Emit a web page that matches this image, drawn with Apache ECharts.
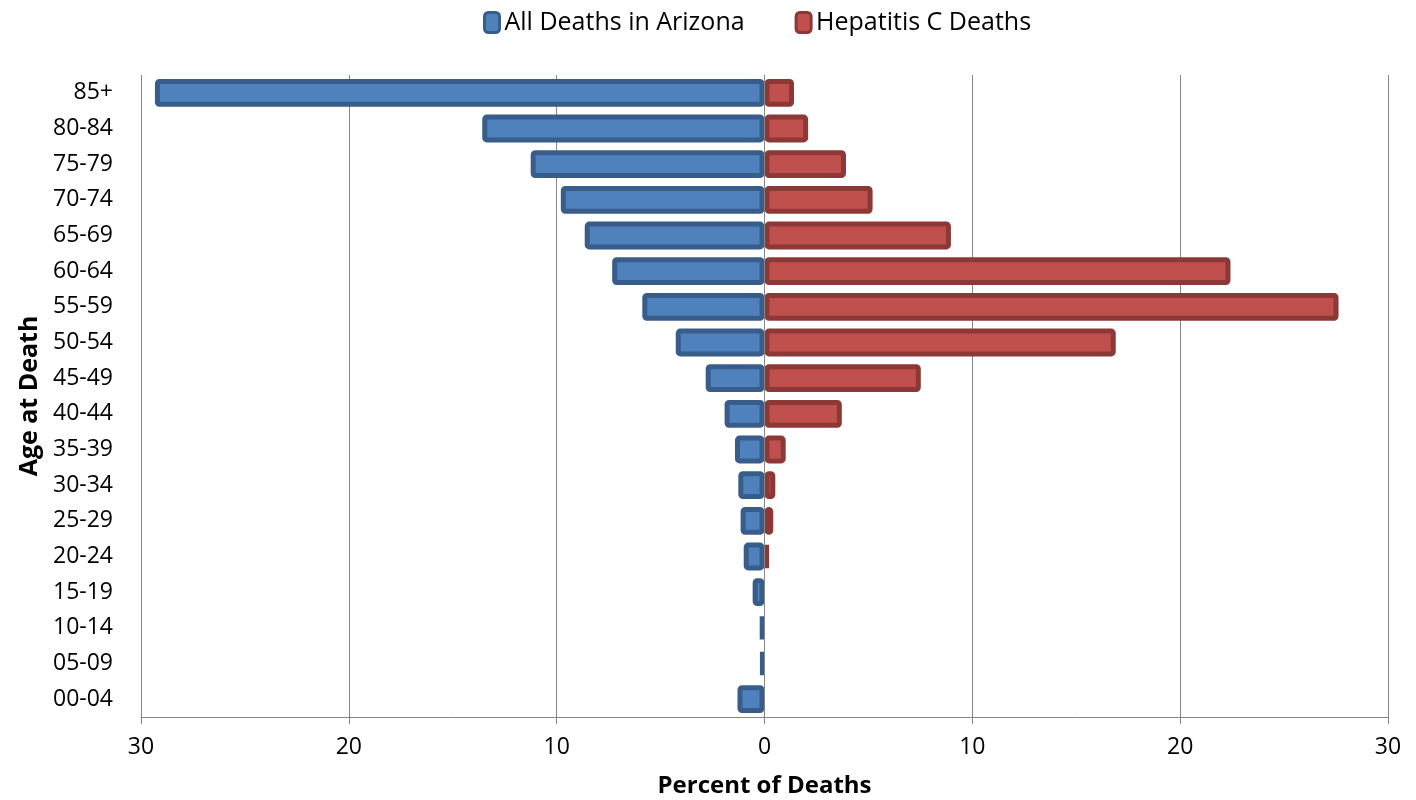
<!DOCTYPE html>
<html>
<head>
<meta charset="utf-8">
<script src="https://cdn.jsdelivr.net/npm/echarts@6/dist/echarts.min.js"></script>
<style>
  html, body { margin: 0; padding: 0; background: #fff; }
  #chart { width: 1416px; height: 800px; }
</style>
</head>
<body>
<div id="chart"></div>
<script>
// Age groups, bottom to top
const ageGroups = ['00-04', '05-09', '10-14', '15-19', '20-24', '25-29', '30-34', '35-39', '40-44',
  '45-49', '50-54', '55-59', '60-64', '65-69', '70-74', '75-79', '80-84', '85+'];
// Percent of all deaths in Arizona by age group
const allDeaths = [1.3, 0.2, 0.22, 0.57, 1.0, 1.15, 1.26, 1.42, 1.92,
  2.83, 4.27, 5.88, 7.33, 8.65, 9.8, 11.25, 13.58, 29.33];
// Percent of hepatitis C deaths by age group
const hepCDeaths = [0, 0, 0, 0, 0.2, 0.42, 0.52, 1.02, 3.72,
  7.52, 16.9, 27.62, 22.42, 8.97, 5.2, 3.92, 2.1, 1.42];
// Value axis ticks
const axisMin = -30, axisMax = 30, axisStep = 10;

const FONT = '"Open Sans"';
const chart = echarts.init(document.getElementById('chart'));

chart.setOption({
  backgroundColor: '#ffffff',
  textStyle: { fontFamily: FONT, color: '#000' },
  legend: {
    top: 5,
    left: 478,
    itemWidth: 15,
    itemHeight: 20,
    itemGap: 50,
    itemStyle: { borderWidth: 3 },
    textStyle: { fontFamily: FONT, fontSize: 25, color: '#000' },
    data: ['All Deaths in Arizona', 'Hepatitis C Deaths']
  },
  grid: { left: 141, right: 28, top: 75, bottom: 83, containLabel: false, outerBoundsMode: 'none' },
  xAxis: {
    type: 'value',
    min: axisMin,
    max: axisMax,
    interval: axisStep,
    name: 'Percent of Deaths',
    nameLocation: 'middle',
    nameGap: 57,
    nameTextStyle: { fontFamily: FONT, fontSize: 24, fontWeight: 'bold', color: '#000' },
    axisLine: { show: true, lineStyle: { color: '#868686', width: 1 } },
    axisTick: { show: true, length: 7, lineStyle: { color: '#868686' } },
    axisLabel: {
      fontFamily: FONT, fontSize: 23, color: '#000', margin: 19,
      formatter: v => String(Math.abs(v))
    },
    splitLine: { show: true, lineStyle: { color: '#868686', width: 1 } }
  },
  yAxis: {
    type: 'category',
    data: ageGroups,
    name: 'Age at Death',
    nameLocation: 'middle',
    nameGap: 98,
    nameTextStyle: { fontFamily: FONT, fontSize: 25, fontWeight: 'bold', color: '#000' },
    axisLine: { show: true, lineStyle: { color: '#868686', width: 1 } },
    axisTick: { show: false },
    axisLabel: { fontFamily: FONT, fontSize: 23, color: '#000', margin: 28 }
  },
  series: [
    {
      name: 'All Deaths in Arizona',
      type: 'bar',
      barWidth: '78%',
      barGap: '-100%',
      data: allDeaths.map(v => -v),
      itemStyle: { color: '#4f81bd', borderColor: '#385d8a', borderWidth: 5, borderRadius: 2 }
    },
    {
      name: 'Hepatitis C Deaths',
      type: 'bar',
      barWidth: '78%',
      data: hepCDeaths.map(v => (v === 0 ? null : v)),
      itemStyle: { color: '#c0504d', borderColor: '#8c3836', borderWidth: 5, borderRadius: 2 },
      markLine: {
        silent: true,
        symbol: 'none',
        label: { show: false },
        lineStyle: { color: '#868686', width: 1, type: 'solid' },
        data: [{ xAxis: 0 }],
        animation: false
      }
    }
  ],
  animation: false
});
</script>
</body>
</html>
